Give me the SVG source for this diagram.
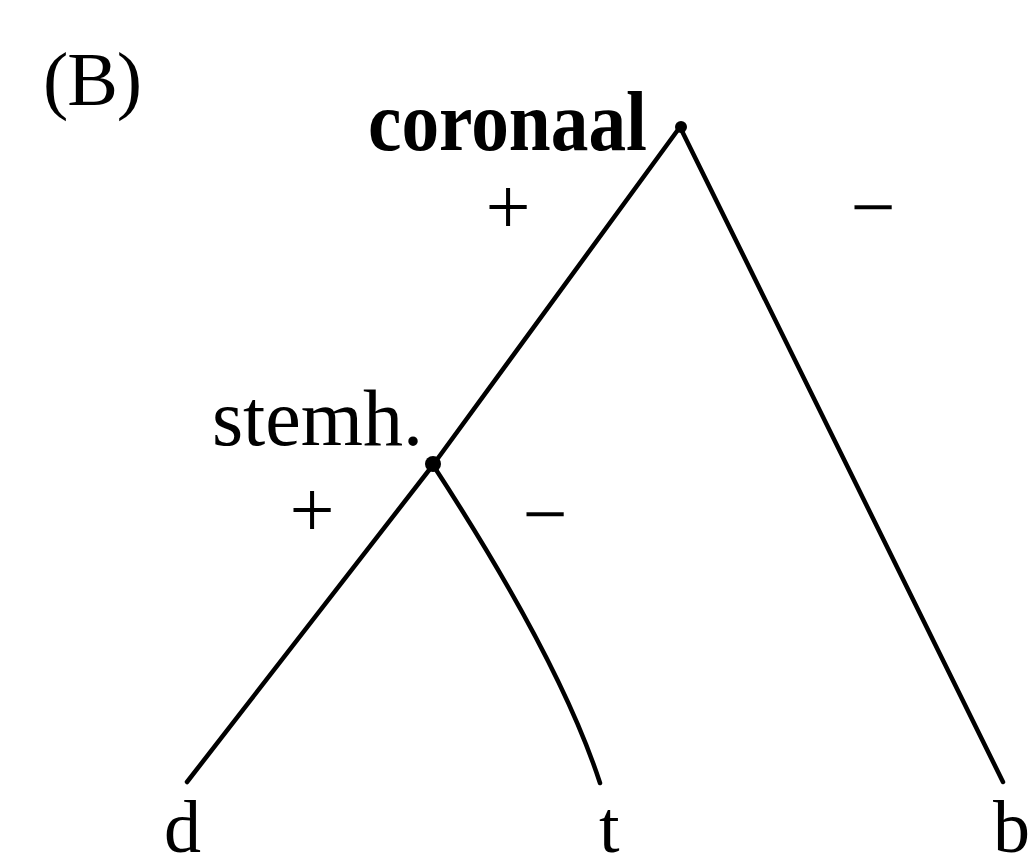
<svg xmlns="http://www.w3.org/2000/svg" width="1033" height="855" viewBox="0 0 1033 855">
<style>
.t{font-family:"Liberation Serif","Times New Roman",serif;fill:#000}
.e{stroke:#000;stroke-width:4.5;fill:none;stroke-linecap:round}
.m{font-size:80px}
.leaf{font-size:74px}
</style>
<rect width="1033" height="855" fill="#fff"/>
<text class="t" x="43" y="105" font-size="76" textLength="99" lengthAdjust="spacing">(B)</text>
<g id="edges">
<path class="e" d="M680,127 L433,465"/>
<path class="e" d="M680,127 Q900,570 1003,782"/>
<path class="e" d="M433,465 L187,782"/>
<path class="e" d="M433,465 Q560,660 600,783"/>
</g>
<g id="n-coronaal">
<circle cx="681" cy="127" r="6" fill="#000"/>
<text class="t" x="368" y="150" font-size="84" font-weight="bold" textLength="279" lengthAdjust="spacingAndGlyphs">coronaal</text>
</g>
<g id="n-stemh">
<circle cx="433" cy="464" r="8" fill="#000"/>
<text class="t" x="212" y="445" font-size="80" textLength="211" lengthAdjust="spacingAndGlyphs">stemh.</text>
</g>
<g id="labels">
<text class="t m" x="508" y="234" text-anchor="middle">+</text>
<text class="t m" x="873" y="234" text-anchor="middle">−</text>
<text class="t m" x="312" y="537" text-anchor="middle">+</text>
<text class="t m" x="545" y="541" text-anchor="middle">−</text>
</g>
<g id="n-d"><text class="t leaf" x="164" y="852">d</text></g>
<g id="n-t"><text class="t leaf" x="599" y="852">t</text></g>
<g id="n-b"><text class="t leaf" x="993" y="852">b</text></g>
</svg>
